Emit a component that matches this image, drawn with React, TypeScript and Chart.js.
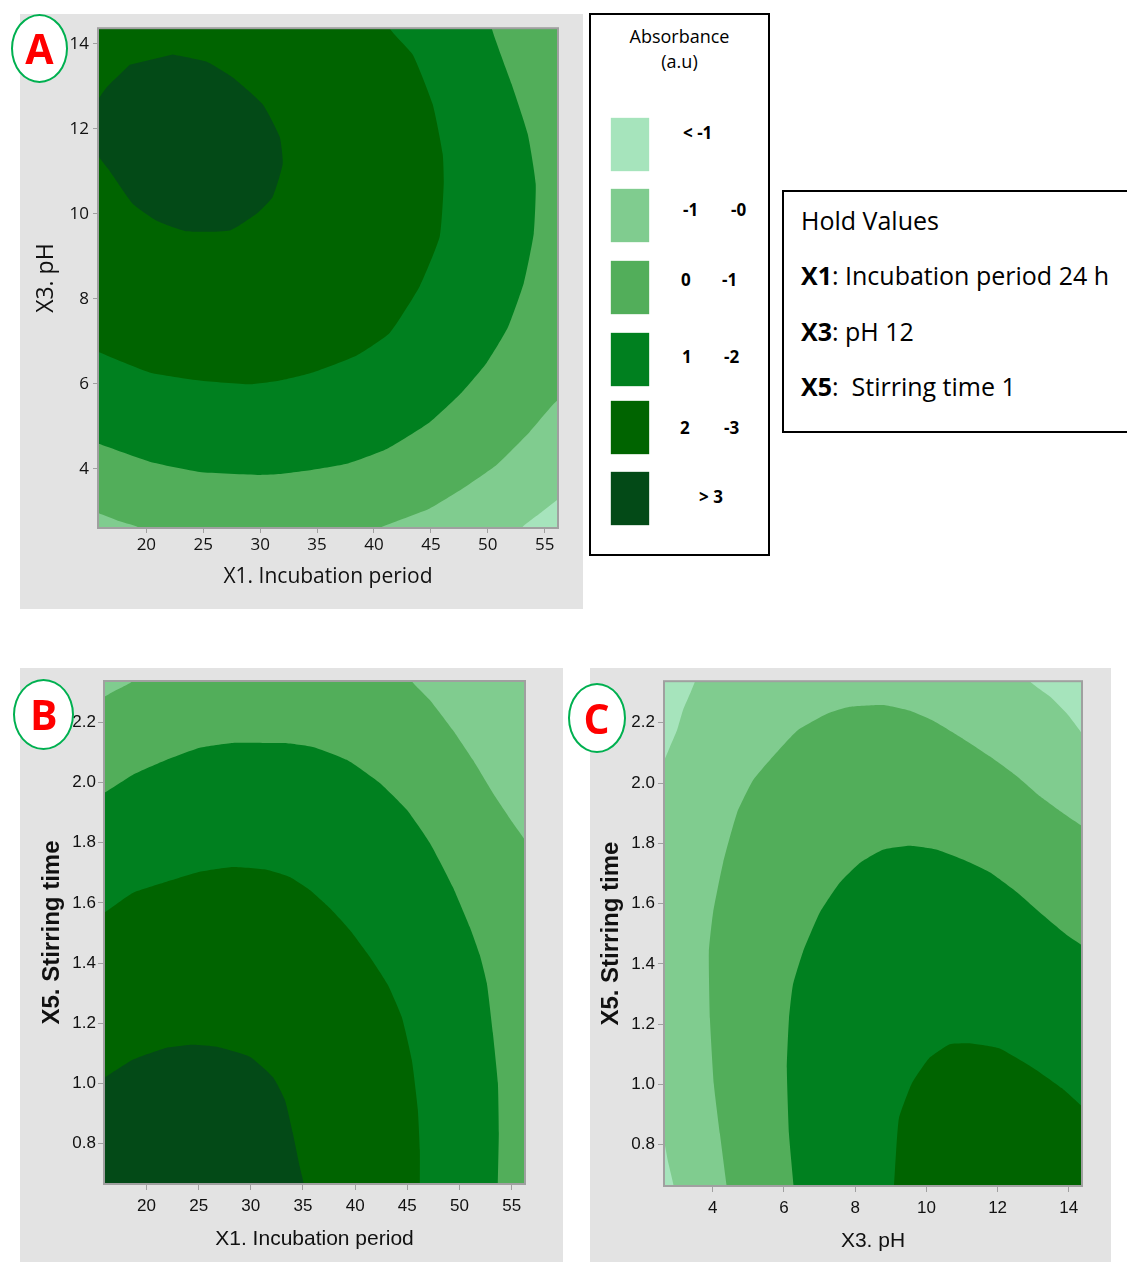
import React, { useEffect, useRef } from 'react';
import { Chart, registerables } from 'chart.js';

Chart.register(...registerables);

// ---------- data ----------
type Pt = [number, number];

// level colours, index 0 = "< -1" ... index 5 = "> 3"
const LEVEL_COLORS = ['#a6e4bc', '#80cc8f', '#52ae5a', '#00801f', '#006400', '#034a17'];
const LEGEND_LABELS: string[][] = [['< -1'], ['-1', '-0'], ['0', '-1'], ['1', '-2'], ['2', '-3'], ['> 3']];
const LEGEND_TITLE = ['Absorbance', '(a.u)'];
const HOLD_TITLE = 'Hold Values';
const HOLD_VALUES: [string, string][] = [
  ['X1', ': Incubation period 24 h'],
  ['X3', ': pH 12'],
  ['X5', ':  Stirring time 1'],
];

// Panel A: X1 incubation period vs X3 pH
const A_X_RANGE = [15.75, 56.17];
const A_Y_RANGE = [2.61, 14.37];
const A_X_TICKS = [20, 25, 30, 35, 40, 45, 50, 55];
const A_Y_TICKS = [4, 6, 8, 10, 12, 14];
const A_X_TITLE = 'X1. Incubation period';
const A_Y_TITLE = 'X3. pH';
const A_BASE_LEVEL = 0;
const A_LEVEL_M1: Pt[] = [[15, 15], [57.5, 15], [57.5, 3.55], [56.15, 3.28], [54.56, 2.95], [52.98, 2.61], [52.7, 2.2], [15, 2.2]];
const A_LEVEL_0: Pt[] = [[15, 15], [57.5, 15], [57.5, 5.62], [56.15, 5.62], [53.68, 4.87], [50.79, 4.1], [47.8, 3.54], [44.9, 3.07], [42.0, 2.77], [40.5, 2.61], [40.0, 2.3], [19.5, 2.3], [19.41, 2.61], [17.66, 2.77], [15.82, 2.96], [15, 3.05]];
const A_LEVEL_1: Pt[] = [[15, 15], [50.3, 15], [50.35, 14.37], [52.1, 13.05], [53.51, 11.88], [54.21, 10.71], [54.04, 9.54], [53.16, 8.37], [51.75, 7.32], [49.91, 6.5], [47.71, 5.8], [44.9, 5.1], [41.12, 4.47], [37.6, 4.12], [34.62, 3.98], [31.72, 3.88], [29.96, 3.86], [24.69, 3.93], [20.29, 4.17], [15.81, 4.59], [15, 4.65]];
const A_LEVEL_2: Pt[] = [[15, 15], [41.1, 15], [41.38, 14.37], [43.4, 13.75], [45.16, 12.58], [46.04, 11.41], [46.13, 10.71], [45.78, 9.47], [44.02, 8.3], [41.38, 7.2], [38.48, 6.67], [34.62, 6.27], [31.72, 6.08], [29.08, 5.99], [24.69, 6.08], [20.29, 6.27], [15.72, 6.76], [15, 6.85]];
const A_LEVEL_3: Pt[] = [[22.31, 13.75], [25.3, 13.58], [27.59, 13.21], [30.22, 12.58], [31.72, 11.81], [31.98, 11.18], [31.1, 10.4], [29.7, 10.01], [27.32, 9.61], [23.54, 9.59], [20.91, 9.84], [18.8, 10.24], [16.78, 11.01], [15.6, 11.45], [15.6, 12.6], [16.52, 12.98], [18.54, 13.51]];

// Panel B: X1 incubation period vs X5 stirring time
const B_X_RANGE = [15.93, 56.28];
const B_Y_RANGE = [0.666, 2.337];
const B_X_TICKS = [20, 25, 30, 35, 40, 45, 50, 55];
const B_Y_TICKS = [0.8, 1.0, 1.2, 1.4, 1.6, 1.8, 2.0, 2.2];
const B_X_TITLE = 'X1. Incubation period';
const B_Y_TITLE = 'X5. Stirring time';
const B_BASE_LEVEL = 1;
const B_LEVEL_0: Pt[] = [[15.5, 2.29], [15.93, 2.284], [16.79, 2.301], [17.75, 2.318], [18.68, 2.337], [18.9, 2.4], [45.2, 2.4], [45.43, 2.337], [47.16, 2.274], [49.36, 2.174], [51.28, 2.075], [53.2, 1.965], [55.11, 1.866], [56.28, 1.809], [57, 1.78], [57, 0.6], [15.5, 0.6]];
const B_LEVEL_1: Pt[] = [[15.5, 1.965], [15.93, 1.965], [18.68, 2.025], [21.94, 2.075], [25.11, 2.115], [28.27, 2.131], [31.53, 2.131], [33.26, 2.131], [35.94, 2.118], [39.2, 2.075], [42.36, 1.998], [44.95, 1.909], [47.16, 1.799], [49.36, 1.653], [50.99, 1.52], [51.95, 1.427], [52.62, 1.334], [53.2, 1.168], [53.68, 1.002], [53.77, 0.836], [53.68, 0.666], [53.65, 0.6], [15.5, 0.6]];
const B_LEVEL_2: Pt[] = [[15.5, 1.567], [15.93, 1.567], [18.68, 1.633], [21.94, 1.67], [25.11, 1.703], [28.27, 1.719], [31.53, 1.71], [33.73, 1.686], [35.65, 1.643], [37.57, 1.583], [39.49, 1.51], [41.4, 1.421], [43.13, 1.328], [44.47, 1.221], [45.43, 1.079], [46.01, 0.913], [46.2, 0.78], [46.2, 0.666], [46.2, 0.6], [15.5, 0.6]];
const B_LEVEL_3: Pt[] = [[15.5, 1.019], [15.93, 1.019], [18.68, 1.079], [21.94, 1.119], [24.43, 1.129], [26.74, 1.122], [29.9, 1.089], [32.1, 1.022], [33.26, 0.946], [34.02, 0.836], [34.69, 0.723], [35.08, 0.666], [35.2, 0.6], [15.5, 0.6]];

// Panel C: X3 pH vs X5 stirring time
const C_X_RANGE = [2.63, 14.37];
const C_Y_RANGE = [0.663, 2.338];
const C_X_TICKS = [4, 6, 8, 10, 12, 14];
const C_Y_TICKS = [0.8, 1.0, 1.2, 1.4, 1.6, 1.8, 2.0, 2.2];
const C_X_TITLE = 'X3. pH';
const C_Y_TITLE = 'X5. Stirring time';
const C_BASE_LEVEL = 0;
const C_LEVEL_M1: Pt[] = [[2.5, 2.075], [2.63, 2.075], [2.8, 2.121], [2.995, 2.175], [3.16, 2.241], [3.36, 2.296], [3.5, 2.338], [3.55, 2.4], [12.85, 2.4], [12.91, 2.338], [13.47, 2.287], [13.95, 2.23], [14.37, 2.164], [14.5, 2.12], [14.5, 0.6], [2.92, 0.6], [2.9, 0.663], [2.75, 0.74], [2.63, 0.813], [2.5, 0.85]];
const C_LEVEL_0: Pt[] = [[4.39, 0.663], [4.2, 0.836], [4.03, 1.001], [3.92, 1.218], [3.89, 1.439], [4.01, 1.571], [4.29, 1.736], [4.68, 1.901], [5.13, 2.009], [5.69, 2.088], [6.37, 2.174], [7.21, 2.23], [7.85, 2.253], [8.78, 2.259], [9.54, 2.24], [10.19, 2.207], [10.94, 2.154], [11.79, 2.088], [12.55, 2.022], [13.19, 1.956], [13.84, 1.9], [14.37, 1.858], [14.5, 1.85], [14.5, 0.6], [4.42, 0.6]];
const C_LEVEL_1: Pt[] = [[6.27, 0.663], [6.14, 0.836], [6.08, 1.054], [6.14, 1.218], [6.25, 1.33], [6.53, 1.439], [7.01, 1.571], [7.57, 1.67], [8.14, 1.736], [8.78, 1.779], [9.54, 1.792], [10.3, 1.779], [11.03, 1.746], [11.79, 1.703], [12.55, 1.637], [13.28, 1.561], [13.95, 1.495], [14.37, 1.462], [14.5, 1.45], [14.5, 0.6], [6.3, 0.6]];
const C_LEVEL_2: Pt[] = [[9.09, 0.663], [9.15, 0.78], [9.23, 0.889], [9.58, 1.001], [10.07, 1.086], [10.66, 1.133], [11.25, 1.136], [12.04, 1.12], [13.01, 1.054], [13.8, 0.988], [14.37, 0.928], [14.5, 0.915], [14.5, 0.6], [9.08, 0.6]];

// ---------- styles ----------
const PANEL_BG = '#e3e3e3';
const FRAME = '#a0a0a0';
const TEXT = '#111';
const SANS = "'Liberation Sans', Arial, sans-serif";

type Region = { level: number; pts: Pt[] };

function baseRect(xr: number[], yr: number[]): Pt[] {
  return [[xr[0] - 1, yr[0] - 1], [xr[1] + 1, yr[0] - 1], [xr[1] + 1, yr[1] + 1], [xr[0] - 1, yr[1] + 1]];
}

const PANELS = [
  {
    key: 'A', left: 20, top: 14, width: 563, height: 595,
    padTop: 9, padRight: 25, yAxisW: 78, xAxisH: 81,
    xRange: A_X_RANGE, yRange: A_Y_RANGE, xTicks: A_X_TICKS, yTicks: A_Y_TICKS, yDec: 0,
    xTitle: A_X_TITLE, yTitle: A_Y_TITLE,
    tickFont: { family: 'Open Sans', size: 17 }, xTickPad: 2, yTickPad: 4, tickLen: 5,
    xTitleFont: { family: 'Open Sans', size: 21 }, yTitleFont: { family: 'Open Sans', size: 23 },
    xTitlePad: 19, yTitlePad: 13,
    regions: [
      { level: A_BASE_LEVEL, pts: baseRect(A_X_RANGE, A_Y_RANGE) },
      { level: 1, pts: A_LEVEL_M1 }, { level: 2, pts: A_LEVEL_0 }, { level: 3, pts: A_LEVEL_1 },
      { level: 4, pts: A_LEVEL_2 }, { level: 5, pts: A_LEVEL_3 },
    ] as Region[],
  },
  {
    key: 'B', left: 20, top: 668, width: 543, height: 594,
    padTop: 13, padRight: 38, yAxisW: 84, xAxisH: 78,
    xRange: B_X_RANGE, yRange: B_Y_RANGE, xTicks: B_X_TICKS, yTicks: B_Y_TICKS, yDec: 1,
    xTitle: B_X_TITLE, yTitle: B_Y_TITLE,
    tickFont: { family: SANS, size: 17 }, xTickPad: 6, yTickPad: 2, tickLen: 6,
    xTitleFont: { family: SANS, size: 21 }, yTitleFont: { family: SANS, size: 24, weight: 'bold' },
    xTitlePad: 10, yTitlePad: 18,
    regions: [
      { level: B_BASE_LEVEL, pts: baseRect(B_X_RANGE, B_Y_RANGE) },
      { level: 2, pts: B_LEVEL_0 }, { level: 3, pts: B_LEVEL_1 },
      { level: 4, pts: B_LEVEL_2 }, { level: 5, pts: B_LEVEL_3 },
    ] as Region[],
  },
  {
    key: 'C', left: 590, top: 668, width: 521, height: 594,
    padTop: 9, padRight: 29, yAxisW: 74, xAxisH: 76,
    xRange: C_X_RANGE, yRange: C_Y_RANGE, xTicks: C_X_TICKS, yTicks: C_Y_TICKS, yDec: 1,
    xTitle: C_X_TITLE, yTitle: C_Y_TITLE,
    tickFont: { family: SANS, size: 17 }, xTickPad: 6, yTickPad: 3, tickLen: 6,
    xTitleFont: { family: SANS, size: 21 }, yTitleFont: { family: SANS, size: 24, weight: 'bold' },
    xTitlePad: 8, yTitlePad: 7,
    regions: [
      { level: C_BASE_LEVEL, pts: baseRect(C_X_RANGE, C_Y_RANGE) },
      { level: 1, pts: C_LEVEL_M1 }, { level: 2, pts: C_LEVEL_0 }, { level: 3, pts: C_LEVEL_1 },
      { level: 4, pts: C_LEVEL_2 },
    ] as Region[],
  },
];

const CIRCLES = [
  { text: 'A', cx: 39.3, cy: 48.7, w: 57, h: 69 },
  { text: 'B', cx: 43.7, cy: 714.5, w: 61, h: 71 },
  { text: 'C', cx: 596.5, cy: 718, w: 58, h: 70 },
];

const framePlugin = {
  id: 'plotFrame',
  afterDatasetsDraw(chart: any) {
    const { ctx, chartArea: a } = chart;
    ctx.save();
    ctx.strokeStyle = FRAME;
    ctx.lineWidth = 2;
    ctx.strokeRect(a.left, a.top, a.right - a.left, a.bottom - a.top);
    ctx.restore();
  },
};

function ContourPanel({ p }: { p: (typeof PANELS)[number] }) {
  const ref = useRef<HTMLCanvasElement>(null);
  useEffect(() => {
    const n = p.regions.length;
    const datasets = p.regions.map((r, i) => ({
      data: r.pts.map(([x, y]) => ({ x, y })),
      showLine: true,
      fill: 'shape',
      backgroundColor: LEVEL_COLORS[r.level],
      borderWidth: 0,
      borderColor: 'rgba(0,0,0,0)',
      pointRadius: 0,
      pointHoverRadius: 0,
      tension: 0.15,
      capBezierPoints: false,
      order: n - i,
    }));
    const axisCommon = (ticks: number[], dec: number, pad: number) => ({
      type: 'linear' as const,
      afterBuildTicks: (s: any) => { s.ticks = ticks.map((v) => ({ value: v })); },
      ticks: {
        autoSkip: false, maxRotation: 0, minRotation: 0, padding: pad,
        font: p.tickFont, color: TEXT,
        callback: (v: any) => Number(v).toFixed(dec),
      },
      grid: { display: true, drawOnChartArea: false, drawTicks: true, tickLength: p.tickLen, color: FRAME, lineWidth: 1 },
      border: { display: false },
    });
    const chart = new Chart(ref.current!, {
      type: 'scatter',
      data: { datasets: datasets as any },
      plugins: [framePlugin],
      options: {
        animation: false,
        responsive: false,
        maintainAspectRatio: false,
        devicePixelRatio: 1,
        events: [],
        layout: { padding: { top: p.padTop, right: p.padRight, left: 0, bottom: 0 } },
        plugins: { legend: { display: false }, tooltip: { enabled: false } },
        scales: {
          x: {
            ...axisCommon(p.xTicks, 0, p.xTickPad),
            min: p.xRange[0], max: p.xRange[1],
            afterFit: (s: any) => { s.height = p.xAxisH; },
            title: { display: true, text: p.xTitle, font: p.xTitleFont, color: TEXT, padding: { top: 0, bottom: p.xTitlePad } },
          },
          y: {
            ...axisCommon(p.yTicks, p.yDec, p.yTickPad),
            min: p.yRange[0], max: p.yRange[1],
            afterFit: (s: any) => { s.width = p.yAxisW; },
            title: { display: true, text: p.yTitle, font: p.yTitleFont, color: TEXT, padding: { top: p.yTitlePad, bottom: 0 } },
          },
        },
      } as any,
    });
    return () => chart.destroy();
  }, [p]);
  return (
    <canvas
      ref={ref}
      width={p.width}
      height={p.height}
      style={{ position: 'absolute', left: p.left, top: p.top, width: p.width, height: p.height, background: PANEL_BG }}
    />
  );
}

const LEGEND_ROWS = [
  { top: 118, cy: 133, parts: [683] },
  { top: 189, cy: 210, parts: [683, 731] },
  { top: 261, cy: 280, parts: [681, 722] },
  { top: 333, cy: 357, parts: [682, 724] },
  { top: 401, cy: 428, parts: [680, 724] },
  { top: 472, cy: 497, parts: [699] },
];

export default function App() {
  return (
    <div style={{ position: 'absolute', left: 0, top: 0, width: 1127, height: 1263, overflow: 'hidden', background: '#fff', fontFamily: "'Open Sans', sans-serif", color: '#000' }}>
      {PANELS.map((p) => <ContourPanel key={p.key} p={p} />)}

      {/* legend box */}
      <div style={{ position: 'absolute', left: 589, top: 13, width: 181, height: 543, border: '2px solid #000', boxSizing: 'border-box', background: '#fff' }} />
      <div style={{ position: 'absolute', left: 589, top: 24, width: 181, textAlign: 'center', fontSize: 18, lineHeight: '25px' }}>
        {LEGEND_TITLE.map((t) => <div key={t}>{t}</div>)}
      </div>
      {LEGEND_LABELS.map((labels, i) => {
        const row = LEGEND_ROWS[i];
        return (
          <React.Fragment key={i}>
            <div style={{ position: 'absolute', left: 611, top: row.top, width: 38, height: 53, background: LEVEL_COLORS[i], boxShadow: `0 0 1px ${LEVEL_COLORS[i]}` }} />
            {labels.map((t, j) => (
              <div key={j} style={{ position: 'absolute', left: row.parts[j], top: row.cy - 12, lineHeight: '24px', fontSize: 17, fontWeight: 'bold', whiteSpace: 'pre' }}>{t}</div>
            ))}
          </React.Fragment>
        );
      })}

      {/* hold values box */}
      <div style={{ position: 'absolute', left: 782, top: 190, width: 360, height: 243, border: '2px solid #000', boxSizing: 'border-box', background: '#fff' }} />
      <div style={{ position: 'absolute', left: 801, top: 204, fontSize: 25, lineHeight: '32px' }}>{HOLD_TITLE}</div>
      {HOLD_VALUES.map(([k, v], i) => (
        <div key={k} style={{ position: 'absolute', left: 801, top: 259 + i * 55.5, fontSize: 25, lineHeight: '32px', whiteSpace: 'pre' }}>
          <b>{k}</b>{v}
        </div>
      ))}

      {/* panel letters */}
      {CIRCLES.map((c) => (
        <div key={c.text} style={{
          position: 'absolute', left: c.cx - c.w / 2, top: c.cy - c.h / 2, width: c.w, height: c.h,
          borderRadius: '50%', border: '2px solid #00b050', background: '#fff', boxSizing: 'border-box',
          display: 'flex', alignItems: 'center', justifyContent: 'center',
          color: '#ff0000', fontWeight: 'bold', fontSize: 41, lineHeight: 1,
        }}>{c.text}</div>
      ))}
    </div>
  );
}
